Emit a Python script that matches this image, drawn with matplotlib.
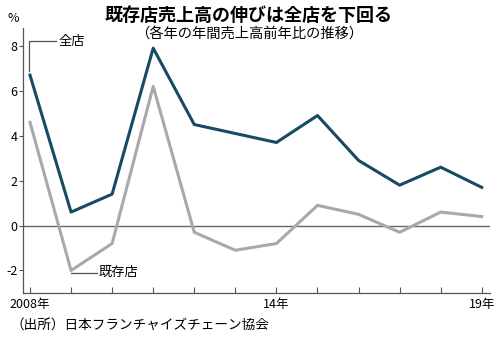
import matplotlib
matplotlib.use("Agg")
import matplotlib.pyplot as plt

plt.rcParams['font.family'] = ['Noto Sans CJK JP', 'DejaVu Sans']
plt.rcParams['axes.unicode_minus'] = False

years = list(range(2008, 2020))
zenten = [6.7, 0.6, 1.4, 7.9, 4.5, 4.1, 3.7, 4.9, 2.9, 1.8, 2.6, 1.7]      # 全店
kizonten = [4.6, -2.0, -0.8, 6.2, -0.3, -1.1, -0.8, 0.9, 0.5, -0.3, 0.6, 0.4]  # 既存店
yticks = [-2, 0, 2, 4, 6, 8]
xtick_labels = {2008: "2008年", 2014: "14年", 2019: "19年"}

fig = plt.figure(figsize=(5.0, 3.41), dpi=100)
ax = fig.add_axes([0.046, 0.141, 0.934, 0.777])

ax.axhline(0, color="#666666", lw=1.0, zorder=1)
ax.plot(years, kizonten, color="#a9a8ae", lw=2.2, zorder=2)
ax.plot(years, zenten, color="#174a63", lw=2.2, zorder=3)

ax.set_xlim(2007.83, 2019.2)
ax.set_ylim(-3, 8.8)
ax.set_yticks(yticks)
ax.set_yticklabels([str(v) for v in yticks])
ax.set_xticks(years)
ax.set_xticklabels([xtick_labels.get(y, "") for y in years])

for s in ["top", "right"]:
    ax.spines[s].set_visible(False)
for s in ["left", "bottom"]:
    ax.spines[s].set_color("#555555")
    ax.spines[s].set_linewidth(0.9)
ax.tick_params(axis="x", direction="in", length=4, color="#555555",
               labelsize=9, pad=4)
ax.tick_params(axis="y", direction="out", length=3, color="#555555",
               labelsize=9, pad=1)

# 系列ラベルと引き出し線
ax.plot([years[0] - 0.02, years[0] - 0.02, 2008.63], [6.9, 8.2, 8.2],
        color="#555555", lw=0.9, clip_on=False)
ax.text(2008.7, 8.2, "全店", fontsize=9.5, va="center", ha="left")
ax.plot([2009, 2009.63], [-2.1, -2.1], color="#555555", lw=0.9)
ax.text(2009.68, -2.1, "既存店", fontsize=9.5, va="center", ha="left")

fig.text(0.498, 0.955, "既存店売上高の伸びは全店を下回る", fontsize=13,
         fontweight="bold", ha="center", va="center")
fig.text(0.498, 0.900, "（各年の年間売上高前年比の推移）", fontsize=10.3,
         ha="center", va="center")
fig.text(0.026, 0.945, "%", fontsize=9, ha="center", va="center")
fig.text(0.022, 0.047, "（出所）日本フランチャイズチェーン協会", fontsize=9.8,
         ha="left", va="center")

fig.savefig("out.png", dpi=100)
